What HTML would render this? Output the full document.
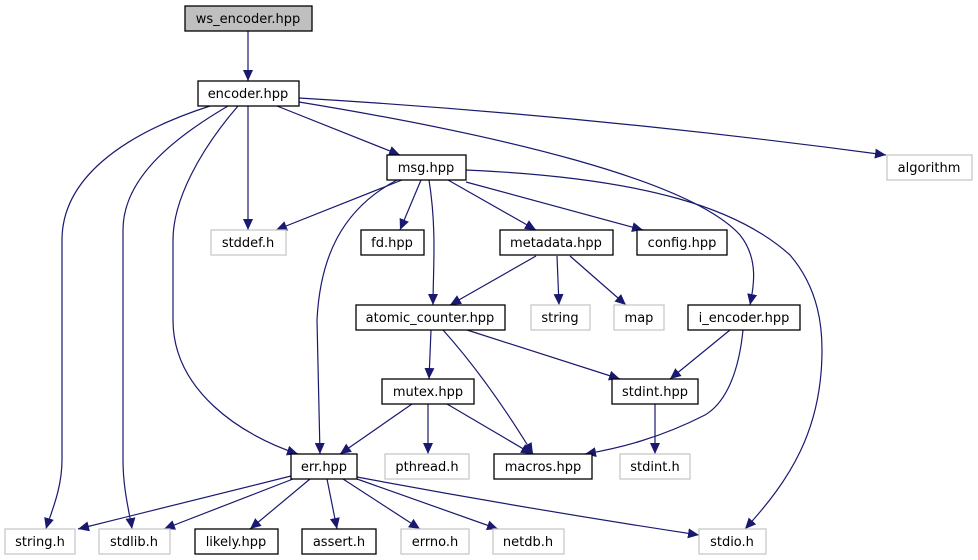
<!DOCTYPE html>
<html><head><meta charset="utf-8"><style>
html,body{margin:0;padding:0;background:#fff;width:978px;height:560px;overflow:hidden}
svg text{font-family:"DejaVu Sans","Liberation Sans",sans-serif;font-size:13px;fill:#000;text-anchor:middle}
</style></head><body>
<svg width="978" height="560" viewBox="0 0 978 560" xmlns="http://www.w3.org/2000/svg">
<defs><marker id="a" markerUnits="userSpaceOnUse" markerWidth="12" markerHeight="10" refX="11" refY="5" orient="auto"><path d="M0,0 L11,5 L0,10 z" fill="#191970"/></marker></defs>
<g fill="none" stroke="#191970" stroke-width="1.2" marker-end="url(#a)">
<path d="M248,31 L248,81"/>
<path d="M248,106 L248,230"/>
<path d="M277,106 L400,155"/>
<path d="M210,106 C120,135 62,180 62,240 L62,460 C62,490 50,515 46,529"/>
<path d="M228,106 C170,140 123,180 123,230 L123,460 C123,490 130,515 132,529"/>
<path d="M238,106 C200,150 173,200 173,240 L173,320 C173,390 240,435 298,454"/>
<path d="M299,98 C500,110 700,130 886,155"/>
<path d="M299,102 C500,135 690,180 740,235 C760,260 753,290 750,305"/>
<path d="M402,180 L276,230"/>
<path d="M421,180 L400,230"/>
<path d="M397,180 C340,210 320,260 317,320 L320,454"/>
<path d="M429,180 C437,230 433,270 433,305"/>
<path d="M448,180 L536,230"/>
<path d="M466,182 L643,230"/>
<path d="M466,170 C650,178 740,210 790,255 C820,290 822,330 822,350 C822,430 790,480 745,529"/>
<path d="M536,256 L450,305"/>
<path d="M557,256 L559,305"/>
<path d="M570,256 L626,305"/>
<path d="M431,330 L429,379"/>
<path d="M467,330 L620,379"/>
<path d="M443,330 C470,360 500,400 533,454"/>
<path d="M730,330 L670,379"/>
<path d="M743,330 C738,380 722,405 705,415 C660,438 620,448 585,454"/>
<path d="M412,404 L340,454"/>
<path d="M428,404 L428,454"/>
<path d="M447,404 L532,454"/>
<path d="M655,404 L655,454"/>
<path d="M291,476 L78,529"/>
<path d="M293,479 L164,529"/>
<path d="M310,479 L250,529"/>
<path d="M327,479 L337,529"/>
<path d="M343,479 L420,529"/>
<path d="M357,479 L498,529"/>
<path d="M357,477 C480,500 600,520 699,535"/>
</g>
<g stroke-width="1.3">
<rect x="185" y="6" width="127" height="25" fill="#bfbfbf" stroke="#000"/>
<g fill="#fff" stroke="#000">
<rect x="198" y="81" width="101" height="25"/>
<rect x="387" y="155" width="79" height="25"/>
<rect x="361" y="230" width="63" height="25"/>
<rect x="500" y="230" width="113" height="25"/>
<rect x="637" y="230" width="90" height="25"/>
<rect x="356" y="305" width="149" height="25"/>
<rect x="688" y="305" width="112" height="25"/>
<rect x="382" y="379" width="92" height="25"/>
<rect x="612" y="379" width="86" height="25"/>
<rect x="291" y="454" width="66" height="25"/>
<rect x="494" y="454" width="98" height="25"/>
<rect x="195" y="529" width="83" height="25"/>
<rect x="302" y="529" width="74" height="25"/>
</g>
<g fill="#fff" stroke="#c8c8c8">
<rect x="211" y="230" width="75" height="25"/>
<rect x="887" y="155" width="85" height="25"/>
<rect x="531" y="305" width="59" height="25"/>
<rect x="614" y="305" width="50" height="25"/>
<rect x="385" y="454" width="84" height="25"/>
<rect x="620" y="454" width="70" height="25"/>
<rect x="5" y="529" width="70" height="25"/>
<rect x="99" y="529" width="71" height="25"/>
<rect x="401" y="529" width="68" height="25"/>
<rect x="493" y="529" width="71" height="25"/>
<rect x="699" y="529" width="67" height="25"/>
</g>
</g>
<g>
<text x="248" y="23">ws_encoder.hpp</text>
<text x="248" y="98">encoder.hpp</text>
<text x="426" y="172">msg.hpp</text>
<text x="248" y="247">stddef.h</text>
<text x="392" y="247">fd.hpp</text>
<text x="556" y="247">metadata.hpp</text>
<text x="682" y="247">config.hpp</text>
<text x="929" y="172">algorithm</text>
<text x="430" y="322">atomic_counter.hpp</text>
<text x="560" y="322">string</text>
<text x="639" y="322">map</text>
<text x="744" y="322">i_encoder.hpp</text>
<text x="428" y="396">mutex.hpp</text>
<text x="655" y="396">stdint.hpp</text>
<text x="324" y="471">err.hpp</text>
<text x="427" y="471">pthread.h</text>
<text x="543" y="471">macros.hpp</text>
<text x="655" y="471">stdint.h</text>
<text x="40" y="546">string.h</text>
<text x="134" y="546">stdlib.h</text>
<text x="236" y="546">likely.hpp</text>
<text x="339" y="546">assert.h</text>
<text x="435" y="546">errno.h</text>
<text x="528" y="546">netdb.h</text>
<text x="732" y="546">stdio.h</text>
</g>
</svg>
</body></html>
